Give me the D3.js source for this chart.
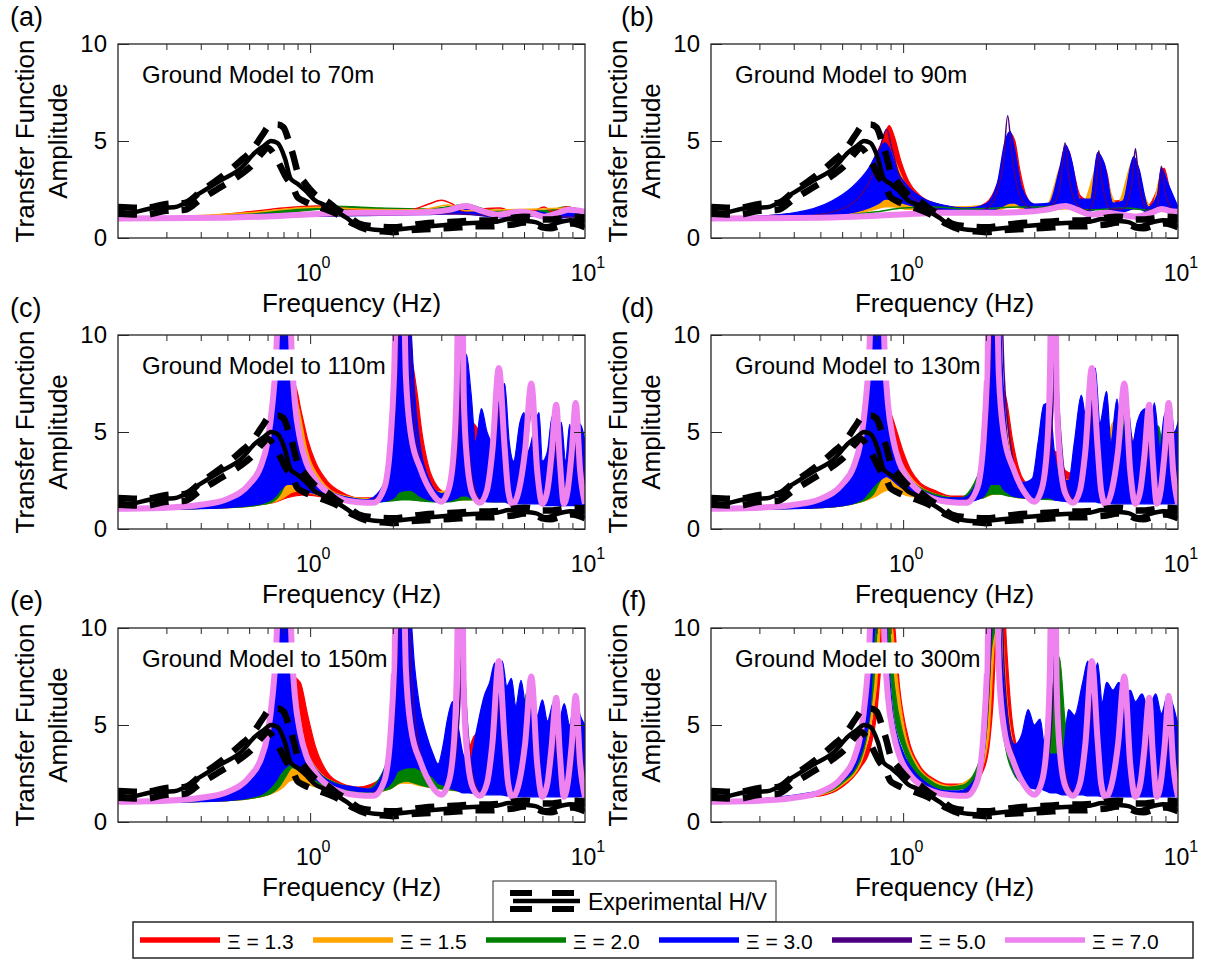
<!DOCTYPE html>
<html>
<head>
<meta charset="utf-8">
<script src="https://cdn.jsdelivr.net/npm/d3@7"></script>
<style>
  body { margin: 0; background: #fff; }
  text { font-family: "Liberation Sans", Arial, sans-serif; fill: #000; }
</style>
</head>
<body>
<svg id="fig" width="1206" height="963"></svg>
<script>
// ---- legend / categories ----
const xiLabels = ['1.3', '1.5', '2.0', '3.0', '5.0', '7.0'];
const xiColors = ['#ff0000', '#ffa500', '#008000', '#0000ff', '#4b0082', '#ee82ee'];
const panelLetters = ['(a)', '(b)', '(c)', '(d)', '(e)', '(f)'];
const panelTitles = ['Ground Model to 70m', 'Ground Model to 90m', 'Ground Model to 110m',
  'Ground Model to 130m', 'Ground Model to 150m', 'Ground Model to 300m'];
const minorTicks = [0.3, 0.4, 0.5, 0.6, 0.7, 0.8, 0.9, 2, 3, 4, 5, 6, 7, 8, 9];
const yTicks = [0, 5, 10];

// ---- experimental H/V (freq Hz, amplitude) ----
const hvMean = [[0.2,1.4],[0.22,1.3],[0.27,1.55],[0.32,1.58],[0.39,2.25],[0.47,2.95],[0.56,3.6],[0.63,4.4],[0.68,4.75],[0.72,5.0],[0.76,4.9],[0.81,4.1],[0.85,3.05],[0.9,2.8],[0.96,2.45],[1.04,1.95],[1.13,1.7],[1.25,1.35],[1.37,1.0],[1.5,0.58],[1.72,0.43],[1.95,0.4],[2.2,0.48],[2.5,0.56],[2.95,0.65],[3.5,0.73],[4.1,0.79],[4.8,0.85],[5.3,0.98],[5.8,0.9],[6.6,0.82],[7.2,0.6],[8.0,0.8],[8.8,0.92],[10,0.85]];
const hvUpper = [[0.2,1.6],[0.25,1.55],[0.3,1.75],[0.35,1.8],[0.4,2.4],[0.47,3.1],[0.55,3.9],[0.62,4.6],[0.67,5.3],[0.72,5.85],[0.76,5.85],[0.8,5.7],[0.84,4.9],[0.87,4.2],[0.9,3.4],[0.95,2.9],[1.0,2.5],[1.07,2.1],[1.15,1.9],[1.25,1.5],[1.37,1.15],[1.5,0.75],[1.7,0.6],[2.0,0.55],[2.3,0.65],[2.6,0.75],[3.0,0.8],[3.5,0.85],[4.0,0.9],[4.5,0.9],[5.0,0.95],[5.5,1.05],[6.0,1.1],[6.5,1.05],[7.0,0.95],[7.5,0.95],[8.0,1.0],[8.5,1.05],[9.0,1.1],[10,1.05]];
const hvLower = [[0.2,1.25],[0.25,1.2],[0.3,1.4],[0.35,1.45],[0.4,2.0],[0.47,2.6],[0.55,3.2],[0.62,3.8],[0.67,4.4],[0.7,4.65],[0.74,4.3],[0.78,3.7],[0.82,3.1],[0.86,2.7],[0.9,2.1],[0.95,1.9],[1.0,1.75],[1.1,1.55],[1.2,1.35],[1.3,1.1],[1.45,0.7],[1.6,0.45],[1.8,0.35],[2.0,0.3],[2.3,0.4],[2.6,0.45],[3.0,0.5],[3.5,0.55],[4.0,0.6],[4.5,0.6],[5.0,0.65],[5.5,0.7],[6.0,0.8],[6.5,0.75],[7.0,0.55],[7.5,0.5],[8.0,0.6],[8.5,0.7],[9.0,0.75],[10,0.55]];

// ---- panel (a): lines [f, amp], bands [f, low, high] ----
const aRed = [[0.2,1.0],[0.4,1.12],[0.6,1.35],[0.8,1.55],[1.05,1.65],[1.3,1.55],[1.7,1.42],[2.3,1.45],[2.7,1.75],[3.0,1.95],[3.3,1.75],[3.6,1.4],[4.2,1.5],[4.9,1.55],[5.5,1.35],[6.5,1.4],[7.1,1.6],[7.6,1.35],[8.5,1.6],[10,1.35]];
const aOrange = [[0.2,1.0],[0.6,1.3],[1.05,1.58],[1.5,1.5],[2.5,1.45],[3.2,1.7],[3.7,1.4],[5,1.45],[7,1.5],[8.7,1.55],[10,1.4]];
const aGreen = [[0.2,1.0,1.0],[0.5,1.1,1.2],[0.8,1.3,1.45],[1.2,1.5,1.65],[1.8,1.42,1.55],[2.6,1.38,1.5],[3.3,1.5,1.65],[3.7,1.55,1.75],[4.3,1.35,1.5],[5.2,1.28,1.4],[6.5,1.3,1.42],[7.5,1.3,1.45],[8.5,1.45,1.6],[10,1.25,1.4]];
const aBlue = [[0.2,1.0,1.0],[0.6,1.08,1.2],[1.0,1.12,1.3],[1.5,1.15,1.38],[2.5,1.2,1.42],[3.5,1.25,1.48],[4.5,1.1,1.35],[5.5,1.0,1.25],[6.5,1.15,1.4],[7.5,0.95,1.25],[9,1.1,1.45],[10,1.05,1.35]];
const aIndigo = [[0.2,1.0],[0.7,1.08],[1.2,1.15],[2,1.2],[3,1.25],[4,1.2],[5,1.1],[6,1.15],[8,1.1],[10,1.05]];
const aViolet = [[0.2,1.0],[0.5,1.05],[0.8,1.15],[1.1,1.25],[1.5,1.3],[2.2,1.3],[2.8,1.35],[3.2,1.45],[3.7,1.65],[4.2,1.4],[4.8,1.2],[5.8,1.35],[6.5,1.25],[7.1,1.1],[8.0,1.3],[8.7,1.45],[10,1.35]];

// ---- panel (b) ----
const bRed = [[0.2,1.0,1.0],[0.45,1.1,1.35],[0.6,1.25,2.0],[0.7,1.4,2.9],[0.78,1.6,4.0],[0.84,1.8,5.0],[0.89,1.9,5.8],[0.93,1.9,5.2],[0.98,1.8,4.0],[1.05,1.7,2.9],[1.15,1.6,2.2],[1.3,1.5,1.8],[1.5,1.45,1.6],[1.75,1.4,1.55],[2.0,1.45,1.8],[2.2,1.5,2.8],[2.35,1.6,4.2],[2.45,1.7,5.4],[2.55,1.7,5.0],[2.65,1.6,3.6],[2.8,1.5,2.2],[3.0,1.45,1.7],[3.3,1.45,1.7],[3.6,1.5,2.5],[3.85,1.6,3.8],[4.0,1.7,4.5],[4.15,1.6,3.6],[4.4,1.5,2.2],[4.8,1.45,1.9],[5.1,1.5,3.0],[5.3,1.6,4.0],[5.5,1.55,3.4],[5.8,1.45,1.9],[6.3,1.45,2.0],[6.8,1.5,3.2],[7.0,1.6,4.0],[7.3,1.5,3.0],[7.8,1.4,1.7],[8.4,1.5,2.5],[8.9,1.6,3.6],[9.3,1.5,2.6],[10,1.4,1.6]];
const bOrange = [[0.2,1.0,1.0],[0.5,1.1,1.4],[0.7,1.3,2.8],[0.8,1.5,4.2],[0.86,1.6,4.8],[0.92,1.6,4.2],[1.0,1.5,3.0],[1.15,1.45,2.0],[1.5,1.4,1.6],[2.0,1.4,1.7],[2.3,1.5,3.5],[2.42,1.6,5.3],[2.55,1.6,4.0],[2.8,1.45,2.0],[3.3,1.4,1.6],[3.85,1.5,4.0],[4.1,1.5,3.2],[4.5,1.4,1.8],[5.2,1.5,4.0],[5.5,1.5,3.0],[6.0,1.4,1.7],[6.9,1.5,4.0],[7.3,1.5,2.8],[8.0,1.4,1.6],[8.8,1.5,3.5],[9.3,1.5,2.4],[10,1.4,1.6]];
const bGreen = [[0.2,1.0],[0.5,1.1],[0.8,1.35],[1.0,1.55],[1.3,1.6],[1.7,1.5],[2.2,1.55],[2.6,1.6],[3.2,1.6],[3.7,1.7],[4.3,1.5],[5.0,1.45],[5.5,1.5],[6.5,1.55],[7.5,1.45],[8.5,1.4],[10,1.35]];
const bBlue = [[0.2,1.0,1.0],[0.4,1.05,1.3],[0.55,1.15,1.9],[0.65,1.3,2.6],[0.75,1.55,3.6],[0.82,1.8,4.6],[0.86,2.0,4.9],[0.9,2.0,4.5],[0.95,1.9,3.5],[1.05,1.7,2.6],[1.2,1.5,2.0],[1.4,1.4,1.7],[1.7,1.35,1.55],[2.0,1.4,1.75],[2.2,1.5,2.8],[2.35,1.7,5.0],[2.45,1.8,5.5],[2.55,1.8,4.5],[2.7,1.6,2.6],[3.0,1.45,1.75],[3.4,1.45,1.8],[3.7,1.55,3.5],[3.9,1.6,4.8],[4.1,1.55,4.0],[4.4,1.45,2.0],[4.8,1.4,2.0],[5.1,1.5,4.4],[5.4,1.5,3.8],[5.8,1.35,1.8],[6.3,1.35,1.9],[6.9,1.5,4.2],[7.2,1.5,3.6],[7.8,1.3,1.6],[8.4,1.35,2.2],[8.7,1.45,3.6],[9.2,1.4,2.8],[10,1.3,1.6]];
const bIndigo = [[0.2,1.0],[0.45,1.15],[0.6,1.5],[0.7,2.2],[0.78,3.4],[0.83,4.8],[0.87,5.6],[0.91,4.6],[0.97,3.2],[1.05,2.3],[1.2,1.7],[1.45,1.4],[1.75,1.35],[2.0,1.5],[2.2,2.4],[2.32,4.0],[2.4,6.3],[2.48,4.5],[2.6,2.6],[2.8,1.7],[3.2,1.4],[3.55,1.8],[3.75,3.0],[3.88,4.9],[4.0,3.3],[4.3,1.7],[4.7,1.4],[5.0,2.3],[5.15,4.5],[5.3,2.8],[5.7,1.5],[6.3,1.5],[6.8,2.8],[7.0,4.6],[7.2,2.9],[7.8,1.4],[8.4,1.6],[8.7,3.7],[9.0,2.3],[9.5,1.5],[10,1.3]];
const bViolet = [[0.2,1.0],[0.5,1.05],[0.8,1.15],[1.1,1.25],[1.4,1.3],[2,1.3],[2.8,1.35],[3.3,1.45],[3.9,1.65],[4.3,1.45],[4.8,1.2],[5.5,1.3],[6.2,1.2],[7.0,1.1],[8.0,1.3],[8.7,1.5],[9.3,1.4],[10,1.35]];

// ---- deep models (c)-(f): Xi = 5.0 and 7.0 curves ----
const deepViolet = [[0.2,1.05],[0.3,1.1],[0.4,1.25],[0.5,1.55],[0.6,2.3],[0.66,3.2],[0.7,4.5],[0.73,6.5],[0.75,8.5],[0.77,12],[0.84,12],[0.86,8.5],[0.88,6.5],[0.92,4.6],[0.97,3.4],[1.05,2.5],[1.17,1.85],[1.33,1.5],[1.5,1.38],[1.7,1.35],[1.86,2.1],[1.96,4.5],[2.02,7.9],[2.06,12],[2.19,12],[2.23,7.9],[2.33,4.8],[2.52,3.1],[2.76,1.9],[3.0,1.4],[3.2,2.1],[3.36,4.8],[3.42,7.9],[3.46,12],[3.58,12],[3.62,7.0],[3.72,3.6],[3.9,1.8],[4.15,1.35],[4.4,2.0],[4.6,4.0],[4.86,8.3],[5.1,4.2],[5.25,2.0],[5.45,1.25],[5.75,2.0],[6.05,4.0],[6.38,7.5],[6.7,3.0],[7.0,1.3],[7.3,2.0],[7.55,3.8],[7.86,6.4],[8.1,3.5],[8.38,1.3],[8.65,2.0],[8.95,4.0],[9.25,6.5],[9.6,3.0],[10,1.3]];
const deepIndigo = [[0.2,1.0],[0.5,1.5],[0.7,4.2],[0.76,9],[0.79,14],[0.83,14],[0.87,8],[0.93,4.5],[1.05,2.6],[1.3,1.6],[1.6,1.4],[1.85,2.0],[2.0,4.5],[2.1,10],[2.15,14],[2.25,14],[2.33,8],[2.45,4.5],[2.7,2.2],[3.0,1.5],[3.3,2.5],[3.5,6],[3.58,10],[3.7,6],[3.9,2.5],[4.2,1.5],[4.6,3],[4.95,6.5],[5.2,3],[5.5,1.5],[6.0,3],[6.4,6],[6.8,2.5],[7.2,1.6],[7.7,3.5],[8.0,5.5],[8.3,2.5],[8.7,1.7],[9.1,3.5],[9.45,5.8],[9.8,3],[10,2.2]];

// ---- panel (c) ----
const cRed = [[0.2,1.0,1.0],[0.5,1.1,1.5],[0.65,1.25,2.5],[0.75,1.4,4.0],[0.82,1.6,6.0],[0.88,1.7,7.4],[0.93,1.75,6.0],[0.98,1.75,4.6],[1.05,1.7,3.4],[1.15,1.6,2.5],[1.3,1.5,1.9],[1.5,1.45,1.6],[1.75,1.45,1.6],[1.95,1.5,2.5],[2.15,1.6,5],[2.3,1.7,9],[2.45,1.8,7],[2.55,1.8,5],[2.7,1.7,3.2],[2.9,1.6,2.2],[3.1,1.5,1.9],[3.35,1.6,2.8],[3.6,1.7,4.5],[3.85,1.7,5.5],[4.05,1.7,5.2],[4.25,1.6,3.8],[4.5,1.5,2.5],[4.8,1.5,3.0],[5.1,1.5,4.8],[5.3,1.5,3.5],[5.6,1.4,2.4],[6.0,1.4,3.0],[6.4,1.4,4.2],[6.7,1.4,2.8],[7.0,1.3,2.4],[7.5,1.3,3.5],[7.9,1.3,2.4],[8.4,1.3,3.4],[8.8,1.3,2.4],[9.3,1.3,3.2],[10,1.3,2.2]];
const cOrange = [[0.2,1.0,1.0],[0.5,1.1,1.5],[0.7,1.3,3.0],[0.8,1.6,5.5],[0.86,1.9,7.5],[0.91,1.95,6.2],[0.97,1.9,4.2],[1.1,1.7,2.5],[1.3,1.5,1.75],[1.7,1.4,1.55],[2.0,1.5,3.0],[2.2,1.6,8],[2.35,1.6,6],[2.5,1.55,3.5],[2.8,1.5,1.9],[3.2,1.45,2.0],[3.6,1.5,4.5],[3.9,1.5,4.5],[4.2,1.45,2.5],[4.6,1.4,2.2],[5.0,1.4,5.0],[5.3,1.4,3.0],[5.8,1.35,2.2],[6.3,1.35,4.2],[6.7,1.35,2.5],[7.5,1.3,3.5],[8.0,1.3,2.2],[8.6,1.3,3.2],[9.2,1.3,2.5],[10,1.3,2.0]];
const cGreen = [[0.2,1.0,1.0],[0.5,1.1,1.5],[0.7,1.3,3.2],[0.78,1.8,5.5],[0.82,2.4,7.5],[0.86,2.6,6.0],[0.92,2.4,4.0],[1.05,2.0,2.5],[1.3,1.5,1.7],[1.7,1.4,1.5],[2.0,1.45,2.5],[2.15,1.5,7],[2.3,1.5,6],[2.5,1.45,3],[2.8,1.4,1.8],[3.2,1.4,1.9],[3.6,1.5,4],[3.9,1.5,4.5],[4.2,1.45,2.5],[4.8,1.4,2.0],[5.1,1.4,3.5],[5.5,1.35,2.0],[6.2,1.35,3.5],[6.6,1.35,2.0],[7.6,1.3,3.2],[8.2,1.3,2.0],[9.0,1.3,3.0],[10,1.3,2.0]];
const cBlue = [[0.2,1.0,1.0],[0.4,1.05,1.2],[0.5,1.1,1.5],[0.6,1.2,2.2],[0.68,1.35,3.4],[0.72,1.5,5],[0.75,1.7,7.5],[0.78,2.0,11],[0.83,2.3,11],[0.86,2.3,8],[0.9,2.2,5.2],[0.95,2.0,3.8],[1.05,1.8,2.6],[1.2,1.55,1.9],[1.4,1.4,1.6],[1.6,1.35,1.5],[1.8,1.4,2.0],[1.95,1.5,3.5],[2.05,1.7,7],[2.1,1.9,11],[2.3,2.0,11],[2.4,1.9,7],[2.5,1.7,4.5],[2.7,1.5,2.6],[2.9,1.4,1.9],[3.1,1.4,1.8],[3.3,1.5,3.0],[3.45,1.6,6],[3.55,1.7,9],[3.7,1.7,9],[3.85,1.6,7],[4.0,1.5,4.5],[4.2,1.5,6.2],[4.4,1.4,5.0],[4.6,1.4,4.5],[4.85,1.4,6.5],[5.1,1.4,7.5],[5.3,1.3,4.5],[5.5,1.3,3.5],[5.8,1.3,5.5],[6.0,1.3,6.0],[6.2,1.3,4.0],[6.5,1.3,5.0],[6.8,1.3,6.0],[7.0,1.2,3.5],[7.3,1.2,4.0],[7.6,1.2,5.8],[7.9,1.2,4.0],[8.2,1.2,5.5],[8.5,1.2,3.5],[8.8,1.2,5.4],[9.1,1.2,4.0],[9.4,1.2,5.5],[9.7,1.2,5.3],[10,1.2,4.5]];

// ---- panel (d) ----
const dRed = [[0.2,1.0,1.0],[0.5,1.1,1.5],[0.7,1.4,3.5],[0.8,1.8,5.5],[0.85,2.3,6.5],[0.9,2.5,6.0],[0.95,2.3,5.0],[1.0,2.1,4.0],[1.07,1.9,3.0],[1.15,1.8,2.4],[1.3,1.7,2.0],[1.5,1.55,1.7],[1.75,1.5,1.7],[1.95,1.6,2.5],[2.1,1.8,4],[2.25,2.0,7.5],[2.38,2.0,6.6],[2.5,1.9,4.6],[2.65,1.8,3.0],[2.8,1.7,2.4],[3.0,1.7,2.3],[3.3,1.7,3.2],[3.6,1.7,4.0],[3.9,1.6,3.0],[4.3,1.55,2.8],[4.7,1.5,4.5],[5.0,1.5,5.0],[5.3,1.5,3.2],[5.7,1.45,3.5],[6.1,1.45,4.5],[6.5,1.4,3.2],[7.0,1.4,4.0],[7.5,1.4,3.0],[8.0,1.4,3.8],[8.6,1.4,3.0],[9.2,1.4,3.5],[10,1.4,2.6]];
const dOrange = [[0.2,1.0,1.0],[0.5,1.1,1.5],[0.7,1.4,3.5],[0.8,1.7,6.5],[0.84,1.9,7.5],[0.88,2.0,6.0],[0.95,1.9,4.0],[1.05,1.7,2.8],[1.25,1.55,1.9],[1.6,1.45,1.6],[1.95,1.6,3],[2.15,1.8,8],[2.3,1.8,7],[2.45,1.7,4],[2.7,1.6,2.4],[3.0,1.6,2.4],[3.4,1.6,4],[3.7,1.55,3],[4.0,1.5,2.5],[4.5,1.5,4.5],[5.0,1.45,5.5],[5.3,1.45,3.2],[5.8,1.4,5.5],[6.2,1.4,3.5],[6.7,1.4,5.0],[7.2,1.4,3.2],[8.0,1.35,5.0],[8.5,1.35,3.0],[9.2,1.35,4.5],[10,1.35,3.0]];
const dGreen = [[0.2,1.0,1.0],[0.5,1.1,1.5],[0.7,1.4,3.8],[0.78,1.8,6.5],[0.82,2.4,7.8],[0.86,2.8,6.2],[0.92,2.5,4.0],[1.0,2.1,3.0],[1.2,1.7,2.0],[1.6,1.45,1.6],[1.95,1.6,3.5],[2.1,1.8,9],[2.25,1.8,8],[2.4,1.7,4.5],[2.7,1.6,2.3],[3.0,1.55,2.3],[3.5,1.5,3.5],[4.0,1.45,2.3],[4.7,1.45,3.5],[5.2,1.4,4.5],[5.6,1.4,3.0],[6.2,1.4,6.5],[6.5,1.4,3.5],[7.2,1.4,4.5],[7.6,1.4,3.0],[8.5,1.35,5.3],[9.0,1.35,3.0],[10,1.35,3.5]];
const dBlue = [[0.2,1.0,1.0],[0.4,1.05,1.25],[0.5,1.1,1.5],[0.6,1.2,2.2],[0.68,1.4,3.5],[0.72,1.6,5.2],[0.75,1.9,7.5],[0.78,2.2,11],[0.84,2.6,11],[0.87,2.7,8.5],[0.9,2.6,5.8],[0.95,2.3,4.0],[1.02,2.0,3.0],[1.1,1.8,2.3],[1.25,1.6,1.8],[1.45,1.4,1.6],[1.65,1.35,1.6],[1.85,1.5,2.4],[1.97,1.7,4.5],[2.03,2.0,9],[2.08,2.3,11],[2.25,2.3,11],[2.3,2.1,8],[2.38,1.9,5],[2.5,1.7,3.2],[2.75,1.6,2.4],[2.95,1.5,2.6],[3.1,1.5,4.5],[3.25,1.6,6.4],[3.4,1.6,6.5],[3.55,1.5,4.0],[3.75,1.45,2.5],[4.0,1.4,2.5],[4.2,1.4,4.5],[4.45,1.4,6.9],[4.65,1.4,5.5],[4.85,1.4,7.0],[5.0,1.4,8.3],[5.2,1.35,5.5],[5.5,1.35,7.1],[5.7,1.3,4.5],[6.0,1.3,6.7],[6.25,1.3,4.5],[6.55,1.3,6.4],[6.85,1.3,4.5],[7.1,1.3,5.5],[7.6,1.3,6.2],[7.9,1.3,4.5],[8.2,1.3,6.5],[8.6,1.3,4.2],[8.9,1.3,5.8],[9.4,1.3,6.4],[9.7,1.3,5.0],[10,1.3,5.5]];

// ---- panel (e) ----
const eRed = [[0.2,1.0,1.0],[0.5,1.1,1.5],[0.7,1.4,3.2],[0.8,1.9,5.5],[0.86,2.5,7.5],[0.92,2.6,7.2],[0.98,2.4,5.5],[1.05,2.1,3.8],[1.15,1.9,2.6],[1.3,1.7,2.0],[1.5,1.6,1.8],[1.8,1.6,2.2],[2.0,1.8,4],[2.2,2.2,8],[2.38,2.4,7],[2.5,2.4,5],[2.65,2.2,3.5],[2.8,2.0,3.0],[3.0,1.8,2.8],[3.3,1.7,3.2],[3.6,1.6,3.0],[4.0,1.5,4.5],[4.3,1.5,3.5],[4.8,1.5,4.0],[5.3,1.45,4.5],[5.8,1.4,3.5],[6.5,1.4,4.2],[7.0,1.4,3.2],[7.8,1.35,4.5],[8.5,1.35,3.5],[9.3,1.35,4.0],[10,1.3,3.2]];
const eOrange = [[0.2,1.0,1.0],[0.5,1.1,1.5],[0.7,1.4,3.5],[0.8,1.8,6.5],[0.84,2.1,7.8],[0.89,2.2,6.5],[0.95,2.0,4.2],[1.05,1.8,2.8],[1.25,1.6,2.0],[1.6,1.5,1.7],[1.95,1.7,3],[2.15,2.0,8],[2.3,2.0,7],[2.45,1.9,4.5],[2.7,1.8,3.0],[3.0,1.7,2.8],[3.4,1.6,4],[3.7,1.55,3],[4.0,1.5,3.5],[4.5,1.5,5.0],[5.0,1.45,5.5],[5.5,1.45,4.0],[6.0,1.4,5.8],[6.5,1.4,4.0],[7.0,1.4,5.2],[7.5,1.4,3.5],[8.2,1.35,5.0],[8.8,1.35,3.5],[9.4,1.35,4.5],[10,1.35,3.5]];
const eGreen = [[0.2,1.0,1.0],[0.5,1.1,1.5],[0.7,1.4,3.8],[0.78,1.9,6.5],[0.82,2.4,7.8],[0.86,2.8,6.5],[0.92,2.6,4.5],[1.0,2.2,3.2],[1.2,1.75,2.1],[1.6,1.5,1.7],[1.95,1.7,3.5],[2.1,2.0,9],[2.25,2.1,8],[2.4,2.0,5],[2.7,1.8,3.0],[3.0,1.7,2.8],[3.5,1.6,3.5],[4.0,1.5,2.8],[4.7,1.45,4.0],[5.2,1.4,5.0],[5.6,1.4,3.5],[6.2,1.4,6.8],[6.5,1.4,4.0],[7.2,1.4,5.0],[7.6,1.4,3.5],[8.5,1.35,5.5],[9.0,1.35,3.5],[10,1.35,4.0]];
const eBlue = [[0.2,1.0,1.0],[0.4,1.05,1.3],[0.5,1.1,1.6],[0.6,1.25,2.3],[0.68,1.5,3.6],[0.72,1.8,5.2],[0.75,2.1,7.5],[0.78,2.5,11],[0.83,2.9,11],[0.86,3.0,8],[0.9,2.9,5.3],[0.95,2.6,4.0],[1.02,2.3,3.0],[1.1,2.0,2.4],[1.25,1.8,1.95],[1.45,1.6,1.8],[1.65,1.55,1.7],[1.85,1.7,2.6],[1.97,2.0,5],[2.03,2.3,9],[2.08,2.6,11],[2.3,2.8,11],[2.4,2.8,8],[2.5,2.7,6],[2.65,2.5,4.5],[2.8,2.3,3.5],[2.92,2.0,3.0],[3.05,1.9,4.0],[3.15,1.8,5.2],[3.3,1.7,6.2],[3.45,1.6,5.0],[3.6,1.5,3.5],[3.8,1.5,3.0],[4.0,1.45,4.5],[4.3,1.4,6.5],[4.5,1.4,7.2],[4.7,1.4,8.2],[4.85,1.4,7.5],[5.0,1.4,8.3],[5.2,1.35,7.0],[5.4,1.35,7.4],[5.6,1.3,6.0],[5.85,1.3,7.3],[6.1,1.3,6.0],[6.4,1.3,6.9],[6.7,1.3,5.5],[7.0,1.3,6.3],[7.3,1.3,5.2],[7.7,1.3,6.2],[8.0,1.3,5.0],[8.4,1.3,6.1],[8.8,1.3,5.0],[9.2,1.3,6.6],[9.6,1.3,5.5],[10,1.3,5.0]];

// ---- panel (f) ----
const fRed = [[0.2,1.0,1.05],[0.5,1.35,1.45],[0.6,1.8,2.0],[0.7,2.8,3.2],[0.76,3.8,4.5],[0.8,5.5,7],[0.83,8,11],[0.87,11,13],[0.92,8,11],[0.97,5,7],[1.05,3.2,4.2],[1.15,2.4,2.9],[1.3,1.9,2.2],[1.45,1.75,1.95],[1.6,1.75,1.95],[1.8,2.0,2.3],[1.95,2.6,3.2],[2.05,3.8,5],[2.12,6,9],[2.2,10,13],[2.3,10,13],[2.38,6,9],[2.48,3.8,5.5],[2.6,2.7,3.8],[2.75,2.1,3.2],[2.9,1.9,3.0],[3.1,1.8,2.6],[3.5,1.6,2.2],[4.0,1.5,3.0],[4.5,1.5,3.5],[5.0,1.45,4.0],[5.5,1.45,3.5],[6.0,1.4,4.0],[7.0,1.4,3.5],[8.0,1.4,3.5],[9.0,1.4,3.5],[10,1.4,3.0]];
const fOrange = [[0.2,1.0,1.05],[0.5,1.4,1.5],[0.6,1.9,2.1],[0.7,3.0,3.4],[0.75,4.5,5.5],[0.8,7,9],[0.84,11,13],[0.9,9,11],[0.95,6,7.5],[1.02,3.8,4.5],[1.12,2.6,3.0],[1.3,1.9,2.1],[1.5,1.7,1.85],[1.7,1.8,2.1],[1.9,2.5,3.0],[2.05,4.5,6],[2.12,8,11],[2.2,11,13],[2.28,8,11],[2.38,4.5,6.5],[2.5,3.0,4.2],[2.65,2.3,3.4],[2.8,2.0,3.2],[3.0,1.8,3.0],[3.3,1.7,4.0],[3.6,1.6,4.5],[4.0,1.5,3.5],[4.5,1.5,4.5],[5.0,1.45,5.0],[5.5,1.45,4.0],[6.2,1.4,5.5],[7.0,1.4,4.5],[7.8,1.4,5.0],[8.5,1.4,4.0],[9.3,1.4,4.5],[10,1.4,3.5]];
const fGreen = [[0.2,1.0,1.05],[0.5,1.45,1.55],[0.6,2.0,2.2],[0.7,3.2,3.6],[0.74,4.5,5.5],[0.78,7,9],[0.82,11,13],[0.88,9,11],[0.93,5.5,7],[1.0,3.8,4.5],[1.1,2.6,3.0],[1.25,1.95,2.15],[1.45,1.65,1.8],[1.65,1.7,1.9],[1.9,2.6,3.2],[2.02,5,7],[2.1,9,12],[2.2,10,12],[2.26,6,9],[2.36,3.8,5.5],[2.5,2.6,3.8],[2.7,2.0,3.5],[3.0,1.8,3.0],[3.3,1.7,4.5],[3.7,1.6,8.5],[3.9,1.6,5],[4.3,1.5,3.5],[5.0,1.45,4.5],[5.5,1.45,4],[6.2,1.4,6.5],[6.8,1.4,5],[7.5,1.4,6],[8.2,1.4,5.5],[9,1.4,5],[10,1.4,4]];
const fBlue = [[0.2,1.0,1.05],[0.5,1.5,1.6],[0.6,2.1,2.3],[0.68,3.0,3.4],[0.72,4.0,4.8],[0.76,6,8],[0.79,10,13],[0.85,11,13],[0.88,7,9],[0.92,4.5,5.5],[1.0,3.0,3.6],[1.1,2.2,2.6],[1.25,1.7,1.9],[1.45,1.4,1.6],[1.6,1.4,1.6],[1.8,1.8,2.1],[1.95,3.0,4],[2.02,6,9],[2.08,11,12],[2.22,11,12],[2.3,5,8],[2.42,3.5,5],[2.55,2.5,4],[2.7,2.0,4.5],[2.85,1.8,5.8],[3.0,1.7,5.0],[3.15,1.7,5.3],[3.3,1.6,3.5],[3.45,1.5,3.5],[3.6,1.5,3.5],[3.8,1.4,3.5],[4.0,1.4,5.8],[4.2,1.4,5.5],[4.5,1.4,7.2],[4.7,1.35,8.3],[4.9,1.35,7.0],[5.1,1.35,8.2],[5.3,1.3,6.2],[5.5,1.3,7.2],[5.8,1.3,6.8],[6.1,1.3,7.2],[6.4,1.3,6.2],[6.7,1.3,6.8],[7.0,1.3,6.2],[7.4,1.3,6.6],[7.8,1.3,5.8],[8.3,1.3,6.6],[8.7,1.3,5.6],[9.2,1.3,6.6],[9.6,1.3,6.0],[10,1.3,5.0]];

// table of what goes in each panel: bands drawn first, then lines on top
const panelBands = [
  [[2, aGreen], [3, aBlue]],
  [[0, bRed], [1, bOrange], [3, bBlue]],
  [[0, cRed], [1, cOrange], [2, cGreen], [3, cBlue]],
  [[0, dRed], [1, dOrange], [2, dGreen], [3, dBlue]],
  [[0, eRed], [1, eOrange], [2, eGreen], [3, eBlue]],
  [[0, fRed], [1, fOrange], [2, fGreen], [3, fBlue]]
];
const panelLines = [
  [[0, aRed], [1, aOrange], [4, aIndigo], [5, aViolet]],
  [[2, bGreen], [4, bIndigo], [5, bViolet]],
  [[4, deepIndigo], [5, deepViolet]],
  [[4, deepIndigo], [5, deepViolet]],
  [[4, deepIndigo], [5, deepViolet]],
  [[4, deepIndigo], [5, deepViolet]]
];

// ---- layout ----
const colX = [118, 711], rowY = [44, 335, 628];
const letterX = [10, 621];
const W = 467, H = 194;
const axisColor = '#262626';

const svg = d3.select('#fig');

function drawPanel(i) {
  const px = colX[i % 2], py = rowY[Math.floor(i / 2)];
  const g = svg.append('g').attr('transform', `translate(${px},${py})`);

  const x = d3.scaleLog().domain([0.2, 10]).range([0, W]);
  const y = d3.scaleLinear().domain([0, 10]).range([H, 0]);

  g.append('clipPath').attr('id', 'clip' + i)
    .append('rect').attr('width', W).attr('height', H);
  const plot = g.append('g').attr('clip-path', `url(#clip${i})`);

  const area = d3.area()
    .x(d => x(d[0])).y0(d => y(d[1])).y1(d => y(d[2]))
    .curve(d3.curveMonotoneX);
  const line = d3.line()
    .x(d => x(d[0])).y(d => y(d[1]))
    .curve(d3.curveMonotoneX);

  panelBands[i].forEach(([k, data]) => {
    plot.append('path').attr('d', area(data))
      .attr('fill', xiColors[k]).attr('stroke', xiColors[k]).attr('stroke-width', 1.2);
  });
  panelLines[i].forEach(([k, data]) => {
    plot.append('path').attr('d', line(data))
      .attr('fill', 'none').attr('stroke', xiColors[k])
      .attr('stroke-width', k === 5 ? 6 : 1.5);
  });

  // experimental H/V
  [hvUpper, hvLower].forEach(data => {
    plot.append('path').attr('d', line(data))
      .attr('fill', 'none').attr('stroke', '#000')
      .attr('stroke-width', 6.5).attr('stroke-dasharray', '19,13');
  });
  plot.append('path').attr('d', line(hvMean))
    .attr('fill', 'none').attr('stroke', '#000').attr('stroke-width', 4.5);

  // title with white background box
  const title = g.append('text').attr('x', 24).attr('y', 30)
    .attr('dominant-baseline', 'central').attr('font-size', 24).text(panelTitles[i]);
  const bb = title.node().getBBox();
  g.insert('rect', () => title.node())
    .attr('x', bb.x - 4).attr('y', bb.y - 2)
    .attr('width', bb.width + 8).attr('height', bb.height + 4)
    .attr('fill', '#fff');

  // axes (ticks point inward)
  const tidy = s => { s.select('.domain').remove(); s.selectAll('line').attr('stroke', axisColor); };
  g.append('g').attr('transform', `translate(0,${H})`)
    .call(d3.axisBottom(x).tickValues(minorTicks).tickSize(-6).tickFormat('')).call(tidy);
  g.append('g')
    .call(d3.axisTop(x).tickValues(minorTicks).tickSize(-6).tickFormat('')).call(tidy);
  g.append('g').attr('transform', `translate(0,${H})`)
    .call(d3.axisBottom(x).tickValues([1]).tickSize(-9).tickFormat('')).call(tidy);
  g.append('g')
    .call(d3.axisTop(x).tickValues([1]).tickSize(-9).tickFormat('')).call(tidy);
  g.append('g')
    .call(d3.axisLeft(y).tickValues(yTicks).tickSize(-11).tickPadding(11))
    .call(tidy)
    .call(s => s.selectAll('text').attr('font-size', 24).attr('font-family', null).attr('fill', '#000'));
  g.append('g').attr('transform', `translate(${W},0)`)
    .call(d3.axisRight(y).tickValues(yTicks).tickSize(-11).tickFormat('')).call(tidy);

  g.append('rect').attr('width', W).attr('height', H)
    .attr('fill', 'none').attr('stroke', axisColor).attr('stroke-width', 1.3);

  // decade labels 10^0, 10^1
  [[1, '0'], [10, '1']].forEach(([v, e]) => {
    const t = g.append('text').attr('x', x(v) + 3).attr('y', H + 43)
      .attr('text-anchor', 'middle').attr('font-size', 23);
    t.append('tspan').text('10');
    t.append('tspan').attr('dy', -13).attr('font-size', 16).text(e);
  });

  g.append('text').attr('x', W / 2).attr('y', H + 65)
    .attr('text-anchor', 'middle').attr('dominant-baseline', 'central')
    .attr('font-size', 26).text('Frequency (Hz)');

  g.append('text')
    .attr('transform', `translate(-93,${H / 2}) rotate(-90)`)
    .attr('text-anchor', 'middle').attr('dominant-baseline', 'central')
    .attr('font-size', 26).text('Transfer Function');
  g.append('text')
    .attr('transform', `translate(-60,${H / 2}) rotate(-90)`)
    .attr('text-anchor', 'middle').attr('dominant-baseline', 'central')
    .attr('font-size', 26).text('Amplitude');

  g.append('text').attr('x', letterX[i % 2] - px).attr('y', -27)
    .attr('dominant-baseline', 'central').attr('font-size', 27).text(panelLetters[i]);
}

d3.range(6).forEach(drawPanel);

// ---- legend: experimental H/V ----
const lg1 = svg.append('g');
lg1.append('rect').attr('x', 493).attr('y', 881).attr('width', 283).attr('height', 41)
  .attr('fill', '#fff').attr('stroke', axisColor).attr('stroke-width', 1);
lg1.append('line').attr('x1', 513).attr('x2', 580).attr('y1', 901).attr('y2', 901)
  .attr('stroke', '#000').attr('stroke-width', 4.5);
[893, 909].forEach(yy => {
  lg1.append('line').attr('x1', 510).attr('x2', 578).attr('y1', yy).attr('y2', yy)
    .attr('stroke', '#000').attr('stroke-width', 6).attr('stroke-dasharray', '22,20');
});
lg1.append('text').attr('x', 588).attr('y', 902).attr('dominant-baseline', 'central')
  .attr('font-size', 23).text('Experimental H/V');

// ---- legend: Xi values ----
const lg2 = svg.append('g');
lg2.append('rect').attr('x', 133).attr('y', 922).attr('width', 1060).attr('height', 36)
  .attr('fill', '#fff').attr('stroke', axisColor).attr('stroke-width', 1.5);
xiLabels.forEach((lab, k) => {
  const x0 = 140 + k * 173;
  lg2.append('line').attr('x1', x0).attr('x2', x0 + 80).attr('y1', 940).attr('y2', 940)
    .attr('stroke', xiColors[k]).attr('stroke-width', 5.5);
  lg2.append('text').attr('x', x0 + 87).attr('y', 941).attr('dominant-baseline', 'central')
    .attr('font-size', 21).text('\u039E = ' + lab);
});
</script>
</body>
</html>
